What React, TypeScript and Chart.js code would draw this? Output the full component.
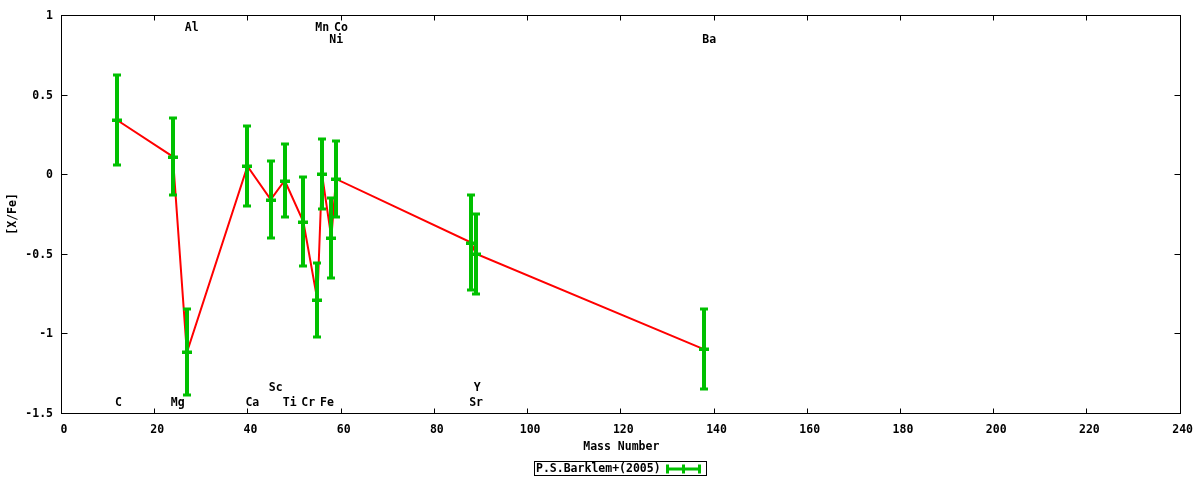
import { useEffect, useRef } from "react";
import { Chart, registerables } from "chart.js";

Chart.register(...registerables);

// ---- Data ----
const elements = ["C", "Mg", "Al", "Ca", "Sc", "Ti", "Cr", "Mn", "Fe", "Ni", "Co", "Sr", "Y", "Ba"];
const massNumbers = [12, 24, 27, 40, 45, 48, 52, 55, 56, 58, 59, 88, 89, 138];
const xFeValues = [0.34, 0.11, -1.12, 0.05, -0.16, -0.04, -0.3, -0.79, 0.0, -0.4, -0.03, -0.43, -0.5, -1.1];
const xFeErrors = [0.28, 0.24, 0.27, 0.25, 0.24, 0.23, 0.28, 0.23, 0.22, 0.25, 0.24, 0.3, 0.25, 0.25];
const labelLevels = [-1.44, -1.44, 0.92, -1.44, -1.34, -1.44, -1.44, 0.92, -1.44, 0.84, 0.92, -1.44, -1.34, 0.84];
const xTickValues = [0, 20, 40, 60, 80, 100, 120, 140, 160, 180, 200, 220, 240];
const yTickValues = [-1.5, -1, -0.5, 0, 0.5, 1];
const seriesName = "P.S.Barklem+(2005)";
const xTitle = "Mass Number";
const yTitle = "[X/Fe]";

const GREEN = "#00c000";
const RED = "#ff0000";
const FONT_FAMILY = '"DejaVu Sans Mono", monospace';
const FONT = `bold 11.5px ${FONT_FAMILY}`;

const overlayPlugin = {
  id: "overlay",
  afterDatasetsDraw(chart: any) {
    const { ctx, scales } = chart;
    const x = scales.x;
    const y = scales.y;
    ctx.save();
    // error bars
    ctx.fillStyle = GREEN;
    massNumbers.forEach((m, i) => {
      const px = Math.round(x.getPixelForValue(m));
      const yc = Math.round(y.getPixelForValue(xFeValues[i]));
      const yt = Math.round(y.getPixelForValue(xFeValues[i] + xFeErrors[i]));
      const yb = Math.round(y.getPixelForValue(xFeValues[i] - xFeErrors[i]));
      ctx.fillRect(px - 2, yt, 4, yb - yt);
      ctx.fillRect(px - 4, yt - 1.5, 8, 3);
      ctx.fillRect(px - 4, yb - 1.5, 8, 3);
      ctx.fillRect(px - 5, yc - 1.5, 10, 3.5);
    });
    // element labels
    ctx.fillStyle = "#000";
    ctx.font = FONT;
    ctx.textAlign = "left";
    ctx.textBaseline = "middle";
    elements.forEach((e, i) => {
      ctx.fillText(e, x.getPixelForValue(massNumbers[i]) - 2, y.getPixelForValue(labelLevels[i]));
    });
    ctx.restore();
  },
  afterDraw(chart: any) {
    const { ctx, chartArea: a, scales } = chart;
    const x = scales.x;
    const y = scales.y;
    ctx.save();
    // border
    ctx.strokeStyle = "#000";
    ctx.lineWidth = 1;
    const L = Math.round(a.left) + 0.5;
    const R = Math.round(a.right) + 0.5;
    const T = Math.round(a.top) + 0.5;
    const B = Math.round(a.bottom) + 0.5;
    ctx.strokeRect(L, T, R - L, B - T);
    // ticks
    ctx.beginPath();
    xTickValues.forEach((v) => {
      const px = Math.round(x.getPixelForValue(v)) + 0.5;
      ctx.moveTo(px, B);
      ctx.lineTo(px, B - 5);
      ctx.moveTo(px, T);
      ctx.lineTo(px, T + 5);
    });
    yTickValues.forEach((v) => {
      const py = Math.round(y.getPixelForValue(v)) + 0.5;
      ctx.moveTo(L, py);
      ctx.lineTo(L + 6, py);
      ctx.moveTo(R, py);
      ctx.lineTo(R - 6, py);
    });
    ctx.stroke();
    // axis titles
    ctx.fillStyle = "#000";
    ctx.font = FONT;
    ctx.textAlign = "center";
    ctx.textBaseline = "middle";
    ctx.fillText(xTitle, (a.left + a.right) / 2 + 1, 447);
    ctx.save();
    ctx.translate(13, (a.top + a.bottom) / 2);
    ctx.rotate(-Math.PI / 2);
    ctx.fillText(yTitle, 0, 0);
    ctx.restore();
    // legend
    const bx = 534.5, by = 461.5, bw = 172, bh = 14;
    ctx.strokeRect(bx, by, bw, bh);
    ctx.textAlign = "left";
    ctx.fillText(seriesName, 536, 469);
    ctx.fillStyle = GREEN;
    const lx0 = 666, lx1 = 701, ly = 469;
    ctx.fillRect(lx0, ly - 1.5, lx1 - lx0, 3);
    ctx.fillRect(lx0, ly - 4.5, 3, 9);
    ctx.fillRect(lx1 - 3, ly - 4.5, 3, 9);
    ctx.fillRect((lx0 + lx1) / 2 - 1.5, ly - 4.5, 3, 9);
    ctx.restore();
  },
};

export default function App() {
  const canvasRef = useRef<HTMLCanvasElement | null>(null);

  useEffect(() => {
    if (!canvasRef.current) return;
    const chart = new Chart(canvasRef.current, {
      type: "line",
      data: {
        datasets: [
          {
            label: "line",
            data: massNumbers.map((m, i) => ({ x: m, y: xFeValues[i] })),
            borderColor: RED,
            borderWidth: 2,
            pointRadius: 0,
            fill: false,
            tension: 0,
          },
        ],
      },
      options: {
        animation: false,
        responsive: false,
        maintainAspectRatio: false,
        devicePixelRatio: 1,
        layout: { padding: { top: 13, right: 20, left: 0, bottom: 0 } },
        plugins: { legend: { display: false }, tooltip: { enabled: false } },
        scales: {
          x: {
            type: "linear",
            min: 0,
            max: 240,
            afterBuildTicks: (s: any) => {
              s.ticks = xTickValues.map((v) => ({ value: v }));
            },
            afterFit: (s: any) => {
              s.height = 67;
            },
            grid: { display: false, drawTicks: false },
            border: { display: false },
            ticks: {
              padding: 10,
              labelOffset: 3,
              maxRotation: 0,
              autoSkip: false,
              color: "#000",
              font: { family: FONT_FAMILY, size: 11.5, weight: "bold" },
              callback: (v: any) => String(v),
            },
          },
          y: {
            type: "linear",
            min: -1.5,
            max: 1,
            afterBuildTicks: (s: any) => {
              s.ticks = yTickValues.map((v) => ({ value: v }));
            },
            afterFit: (s: any) => {
              s.width = 61;
            },
            grid: { display: false, drawTicks: false },
            border: { display: false },
            ticks: {
              padding: 8,
              labelOffset: 1,
              autoSkip: false,
              color: "#000",
              font: { family: FONT_FAMILY, size: 11.5, weight: "bold" },
              callback: (v: any) => String(v),
            },
          },
        },
      },
      plugins: [overlayPlugin],
    } as any);
    return () => chart.destroy();
  }, []);

  return (
    <div style={{ position: "absolute", left: 0, top: 0, width: 1200, height: 480, background: "#fff" }}>
      <canvas ref={canvasRef} width={1200} height={480} style={{ display: "block" }} />
    </div>
  );
}
